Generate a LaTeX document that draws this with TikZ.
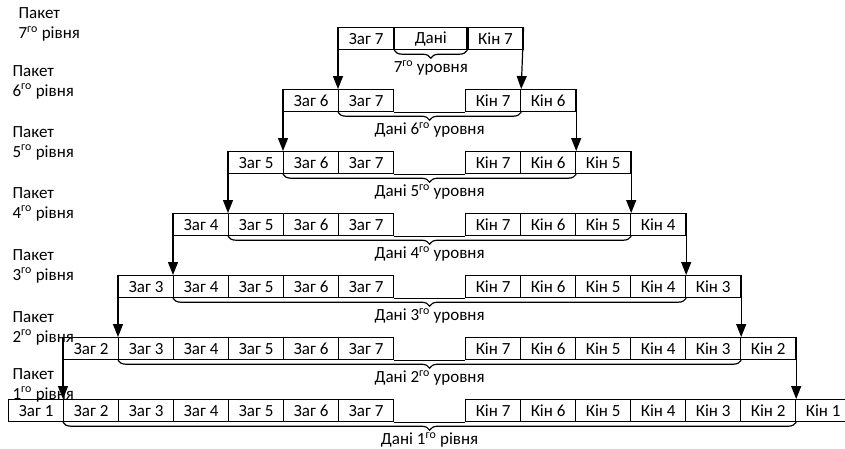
\documentclass[tikz,border=0pt]{standalone}
\usepackage{fontspec}
\setmainfont{Carlito}
\usetikzlibrary{arrows.meta,decorations.pathreplacing}
\begin{document}
\begin{tikzpicture}[x=1pt,y=-1pt, line width=1.2pt,
  font=\fontsize{17}{20}\selectfont,
  cell/.style={draw, minimum width=55pt, minimum height=22pt, inner sep=0pt, anchor=north west},
  datacell/.style={cell, minimum width=72pt},
  arr/.style={-{Triangle[length=13pt,width=10pt]}},
  brace/.style={decorate, decoration={brace, mirror, amplitude=8pt}},
  bracelab/.style={midway, below=9.5pt, inner sep=0pt},
  pack/.style={align=left, anchor=west, inner sep=0pt}]
\useasboundingbox (0,0) rectangle (845,448);
\clip (0,0) rectangle (845,448);
% top row (level 7)
\node[cell] (z7-7) at (338,27) {Заг 7};
\node[datacell] (d7) at (z7-7.north east) {Дані};
\node[cell] (n7-7) at (d7.north east) {Кін 7};
\draw[brace] (d7.south west) -- (d7.south east) node[bracelab] {7\textsuperscript{го} уровня};
% rows 6..1
\foreach \k in {1,...,6} {
  \pgfmathsetmacro\rowtop{27+(7-\k)*62}
  \foreach \j in {\k,...,7} {
    \node[cell] (z\k-\j) at ({8+(\j-1)*55},\rowtop) {Заг \j};
    \node[cell] (n\k-\j) at ({465+(7-\j)*55},\rowtop) {Кін \j};
  }
  \draw (z\k-7.south east) -- (n\k-7.south west);
}
% arrows
\foreach \k in {2,...,7} {
  \pgfmathtruncatemacro\m{\k-1}
  \draw[arr] (z\k-\k.north west) -- (z\m-\k.north west);
  \draw[arr] (n\k-\k.north east) -- (n\m-\k.north east);
}
% braces
\foreach \k in {2,...,6} {
  \pgfmathtruncatemacro\p{\k+1}
  \draw[brace] (z\k-\p.south west) -- (n\k-\p.south east) node[bracelab] {Дані \k\textsuperscript{го} уровня};
}
\draw[brace] (z1-2.south west) -- (n1-2.south east) node[bracelab] {Дані 1\textsuperscript{го} рівня};
% left labels
\node[pack] (p7) at (18,24.5) {Пакет\\7\textsuperscript{го} рівня};
\node[pack] (p6) at (12,82) {Пакет\\6\textsuperscript{го} рівня};
\node[pack] (p5) at (12,143) {Пакет\\5\textsuperscript{го} рівня};
\node[pack] (p4) at (12,204) {Пакет\\4\textsuperscript{го} рівня};
\node[pack] (p3) at (12,266) {Пакет\\3\textsuperscript{го} рівня};
\node[pack] (p2) at (12,328) {Пакет\\2\textsuperscript{го} рівня};
\node[pack] (p1) at (12,385) {Пакет\\1\textsuperscript{го} рівня};
\end{tikzpicture}
\end{document}
